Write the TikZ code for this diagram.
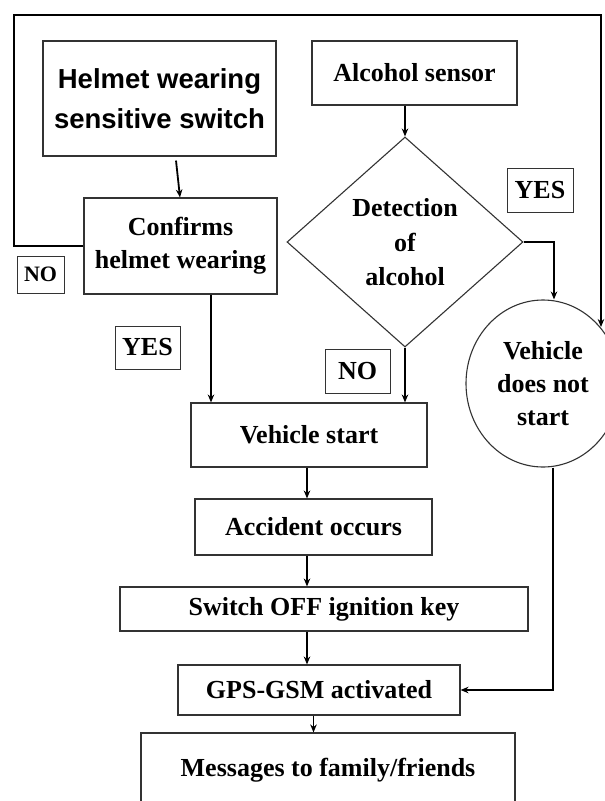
\documentclass[tikz,border=0pt]{standalone}
\usepackage{fontspec}
\setmainfont{Liberation Serif}
\newfontfamily\helmetfont{Liberation Sans}
\usetikzlibrary{shapes.geometric,arrows.meta,calc}

\begin{document}
\begin{tikzpicture}[x=1pt,y=-1pt,
  box/.style={draw=black!80, line width=1.1pt, inner sep=0pt, align=center,
              font=\bfseries\fontsize{26}{33}\selectfont},
  tag/.style={draw=black!80, line width=1pt, inner sep=0pt,
              font=\bfseries\fontsize{26}{30}\selectfont},
  arr/.style={line width=1.8pt, -{Stealth[length=8pt,width=6.5pt]}},
]
\useasboundingbox (0,0) rectangle (605,801);
\clip (0,0) rectangle (605,801);
\fill[white] (0,0) rectangle (605,801);

% process boxes
\node[box, minimum width=233pt, minimum height=115pt,
      font=\helmetfont\bfseries\fontsize{27.5}{40}\selectfont]
      (helmet) at (159.5,98.5) {Helmet wearing\\sensitive switch};
\node[box, minimum width=205pt, minimum height=64pt] (alc) at (414.5,73) {Alcohol sensor};
\node[box, minimum width=193pt, minimum height=96pt] (confirms) at (180.5,246) {Confirms\\helmet wearing};

% decision
\node[draw=black!80, line width=1.1pt, diamond, minimum width=236pt,
      minimum height=210pt, inner sep=0pt] (det) at (405,242) {};
\node[align=center, inner sep=0pt, font=\bfseries\fontsize{26}{34.5}\selectfont]
      (dettxt) at (405,242.5) {Detection\\of\\alcohol};

% terminal state
\node[box, ellipse, minimum width=154pt, minimum height=167pt] (vds) at (543,383.5)
      {Vehicle\\does not\\start};

\node[box, minimum width=236pt, minimum height=64pt] (vs) at (309,435) {Vehicle start};
\node[box, minimum width=237pt, minimum height=56pt] (acc) at (313.5,527) {Accident occurs};
\node[box, minimum width=408pt, minimum height=44pt] (sw) at (324,609) {Switch OFF ignition key};
\node[box, minimum width=282pt, minimum height=50pt] (gps) at (319,690) {GPS-GSM activated};
\node[box, minimum width=374pt, minimum height=74pt] (msg) at (328,770) {Messages to family/friends};

% branch labels
\node[tag, minimum width=47pt, minimum height=37pt,
      font=\bfseries\fontsize{22}{26}\selectfont] (noL) at (40.5,274.5) {NO};
\node[tag, minimum width=65pt, minimum height=43pt] (yesL) at (147.5,347.5) {YES};
\node[tag, minimum width=65pt, minimum height=44pt] (noM) at (357.5,371) {NO};
\node[tag, minimum width=66pt, minimum height=44pt] (yesR) at (540,190) {YES};

% connectors
\coordinate (cornerL) at (14,15);
\coordinate (cornerR) at (601,15);
\coordinate (vdsin) at (601,327);
\coordinate (yesturn) at (554,242);

\draw[arr] ([xshift=16.5pt,yshift=-4pt]helmet.south) -- ([xshift=-0.5pt]confirms.north);
\draw[arr] (alc.south -| det.north) -- (det.north);
\draw[arr] (confirms.west) -- (confirms.west -| cornerL) -- (cornerL) -- (cornerR) -- (vdsin);
\draw[arr] (det.east) -- (yesturn) -- (yesturn |- vds.north);
\draw[arr] ([xshift=30.5pt]confirms.south) -- ([xshift=30.5pt]confirms.south |- vs.north);
\draw[arr] (det.south) -- (det.south |- vs.north);
\draw[arr] ([xshift=-2pt]vs.south) -- ([xshift=-2pt]vs.south |- acc.north);
\draw[arr] ([xshift=-6.5pt]acc.south) -- ([xshift=-6.5pt]acc.south |- sw.north);
\draw[arr] ([xshift=-17pt]sw.south) -- ([xshift=-17pt]sw.south |- gps.north);
\draw[arr] ([xshift=-5.5pt]gps.south) -- ([xshift=-5.5pt]gps.south |- msg.north);
\draw[arr] ([xshift=10pt]vds.south) |- (gps.east);
\end{tikzpicture}
\end{document}
